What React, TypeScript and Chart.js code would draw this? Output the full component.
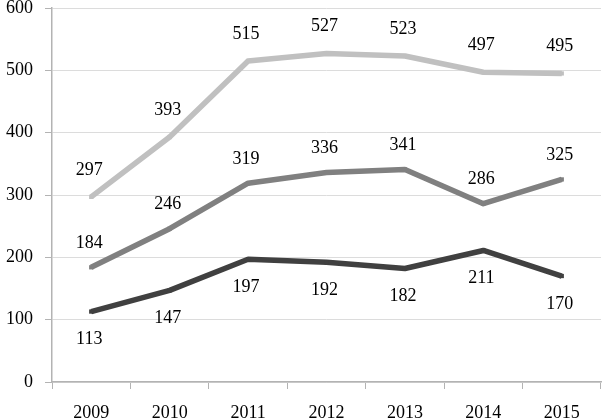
import React, { useEffect, useRef } from "react";
import { Chart, registerables } from "chart.js";

Chart.register(...registerables);

const years = ["2009", "2010", "2011", "2012", "2013", "2014", "2015"];
const seriesHigh = [297, 393, 515, 527, 523, 497, 495];
const seriesMid = [184, 246, 319, 336, 341, 286, 325];
const seriesLow = [113, 147, 197, 192, 182, 211, 170];
const yMin = 0;
const yMax = 600;
const yStep = 100;

const FONT = "'Liberation Serif', serif";

const labelPlugin = {
  id: "valueLabels",
  afterDatasetsDraw(chart: any) {
    const ctx = chart.ctx;
    ctx.save();
    ctx.font = `18px ${FONT}`;
    ctx.fillStyle = "#000";
    ctx.textAlign = "center";
    ctx.textBaseline = "middle";
    chart.data.datasets.forEach((ds: any, i: number) => {
      const meta = chart.getDatasetMeta(i);
      const dy = ds.labelOffset ?? -25;
      meta.data.forEach((pt: any, j: number) => {
        ctx.fillText(String(ds.data[j]), pt.x - 2, pt.y + dy);
      });
    });
    ctx.restore();
  },
};

export default function App() {
  const ref = useRef<HTMLCanvasElement | null>(null);

  useEffect(() => {
    document.body.style.margin = "0";
    if (!ref.current) return;
    const mk = (data: number[], color: string, offset: number) => ({
      data,
      borderColor: color,
      backgroundColor: color,
      borderWidth: 5.5,
      borderJoinStyle: "round" as const,
      pointStyle: "rect" as const,
      pointRadius: 3,
      pointBorderWidth: 0,
      pointBackgroundColor: color,
      tension: 0,
      labelOffset: offset,
    });
    const chart = new Chart(ref.current, {
      type: "line",
      data: {
        labels: years,
        datasets: [
          mk(seriesHigh, "#c0c0c0", -27),
          mk(seriesMid, "#808080", -24),
          mk(seriesLow, "#404040", 28),
        ] as any,
      },
      options: {
        responsive: false,
        animation: false,
        layout: { padding: { top: 0, right: 0, left: 0, bottom: 0 } },
        plugins: {
          legend: { display: false },
          tooltip: { enabled: false },
        },
        scales: {
          x: {
            offset: true,
            grid: {
              offset: true,
              drawOnChartArea: false,
              drawTicks: true,
              tickLength: 7,
              color: "#b3b3b3",
            },
            border: { color: "#b3b3b3", width: 1.5 },
            ticks: {
              color: "#000",
              font: { family: FONT, size: 18 },
              padding: 13,
              maxRotation: 0,
            },
            afterFit(scale: any) {
              scale.height = 38;
              scale.paddingLeft = 0;
              scale.paddingRight = 0;
            },
          },
          y: {
            min: yMin,
            max: yMax,
            ticks: {
              stepSize: yStep,
              color: "#000",
              font: { family: FONT, size: 18 },
              padding: 12,
            },
            grid: {
              color: "#dcdcdc",
              tickColor: "#b3b3b3",
              tickLength: 7,
            },
            border: { color: "#b3b3b3", width: 1.5 },
            afterFit(scale: any) {
              scale.width = 52;
              scale.paddingTop = 8;
              scale.paddingBottom = 0;
            },
          },
        },
      },
      plugins: [labelPlugin],
    });
    return () => chart.destroy();
  }, []);

  return (
    <div style={{ width: 605, height: 420 }}>
      <canvas ref={ref} width={605} height={420} />
    </div>
  );
}
